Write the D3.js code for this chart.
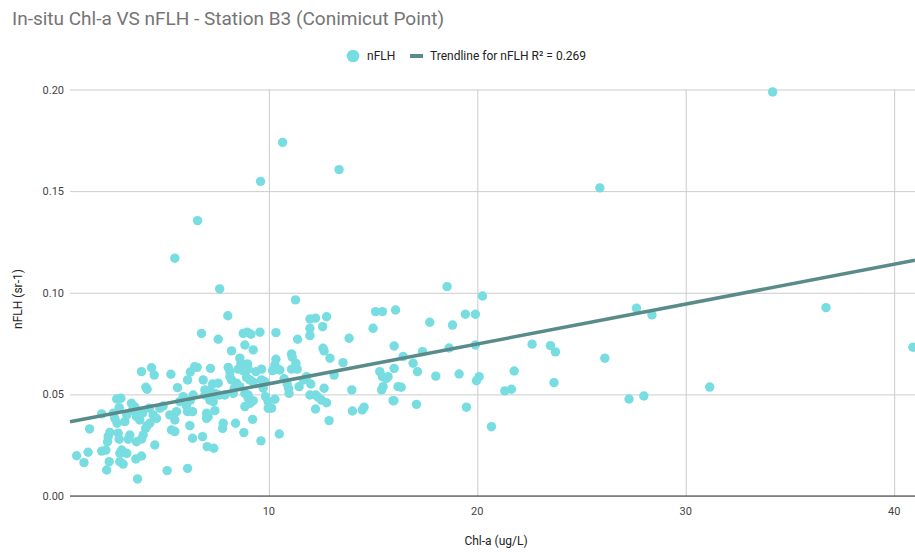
<!DOCTYPE html>
<html>
<head>
<meta charset="utf-8">
<script src="https://cdn.jsdelivr.net/npm/d3@7"></script>
<style>
  body { margin: 0; background: #fff; }
  svg { display: block; font-family: Roboto, Arial, sans-serif; }
</style>
</head>
<body>
<svg id="chart" width="915" height="552"></svg>
<script>
// In-situ Chl-a (ug/L) vs nFLH (sr-1)
const chlA = [
  0.78, 1.13, 1.33, 1.40, 1.98, 1.98, 2.18, 2.22, 2.34, 2.26, 2.29, 2.37,
  2.53, 2.61, 2.72, 2.70, 2.90, 2.82, 2.77, 2.82, 2.85, 2.94, 2.85, 3.01,
  3.18, 3.09, 3.18, 3.25, 3.33, 3.41, 3.57, 3.46, 3.70, 3.62, 3.89, 3.65,
  3.89, 4.09, 4.16, 3.97, 3.65, 3.81, 3.70, 3.94, 4.26, 3.89, 4.10, 4.16,
  4.37, 4.50, 4.53, 4.29, 4.61, 4.45, 4.77, 4.93, 5.12, 5.30, 5.25, 5.49,
  5.33, 5.49, 5.62, 5.73, 5.89, 6.05, 6.24, 6.37, 6.10, 6.34, 6.21, 6.10,
  6.34, 6.23, 6.44, 6.56, 5.57, 6.10,
  // 6.5 - 16
  10.66, 13.37, 9.60, 6.58, 5.49, 7.64, 11.28, 8.03, 11.97, 12.24, 12.77,
  11.97, 12.58, 11.97, 8.77, 8.96, 9.14, 9.57, 10.34, 6.77, 7.57, 11.38,
  8.85, 13.85, 15.00, 15.12, 15.45, 16.08, 8.21, 9.25, 12.60, 12.65, 11.09,
  11.12, 12.93, 13.56, 16.01, 8.61, 8.66, 8.98, 8.53, 8.77, 9.01, 8.69,
  10.34, 10.29, 10.40, 10.53, 10.18, 8.05, 7.20, 9.38, 9.65, 11.09, 11.36,
  11.30, 15.32, 15.45, 15.64, 15.72, 16.01, 15.48, 15.41, 16.00, 16.20,
  13.13, 12.65, 11.97, 12.25, 12.36, 12.53, 12.77, 12.24, 12.89, 13.98,
  14.01, 14.48, 14.57, 11.45, 11.65, 12.01, 11.81, 10.73, 10.88, 10.94,
  10.97, 9.81, 9.65, 9.73, 9.84, 9.97, 9.97, 10.13, 10.29, 10.50, 9.62,
  9.22, 8.80, 8.40, 8.85, 9.09, 9.25, 9.01, 9.01, 8.29, 8.34, 8.61, 8.21,
  7.57, 7.81, 7.78, 7.36, 7.04, 6.82, 7.01, 7.09, 7.01, 7.41, 7.33, 7.17,
  6.93, 7.41, 7.62, 7.89, 6.85, 6.93, 7.17, 8.13, 8.13, 8.45, 8.93, 9.09,
  9.25, 7.30, 8.85,
  // 16 and up
  18.55, 20.25, 17.72, 18.81, 19.43, 19.91, 16.44, 17.37, 18.65, 19.91,
  22.63, 23.51, 23.75, 16.92, 17.13, 18.01, 19.13, 20.09, 19.96, 21.77,
  21.32, 21.64, 23.68, 16.35, 15.96, 17.08, 19.48, 20.68,
  27.64, 28.38, 36.73, 26.12, 27.28, 27.99, 31.15, 40.90, 34.17, 25.88
];
const nflh = [
  0.0198, 0.0164, 0.0215, 0.0330, 0.0404, 0.0221, 0.0226, 0.0128, 0.0169, 0.0267, 0.0292, 0.0313,
  0.0407, 0.0382, 0.0358, 0.0477, 0.0481, 0.0435, 0.0309, 0.0279, 0.0210, 0.0226, 0.0169, 0.0157,
  0.0210, 0.0366, 0.0399, 0.0279, 0.0300, 0.0456, 0.0439, 0.0420, 0.0084, 0.0182, 0.0197, 0.0267,
  0.0280, 0.0333, 0.0346, 0.0300, 0.0390, 0.0374, 0.0418, 0.0407, 0.0432, 0.0612, 0.0535, 0.0525,
  0.0631, 0.0595, 0.0251, 0.0358, 0.0382, 0.0399, 0.0432, 0.0443, 0.0125, 0.0599, 0.0399, 0.0374,
  0.0325, 0.0317, 0.0533, 0.0464, 0.0489, 0.0443, 0.0472, 0.0497, 0.0415, 0.0415, 0.0346, 0.0136,
  0.0284, 0.0610, 0.0636, 0.0633, 0.0415, 0.0571,
  0.1740, 0.1606, 0.1548, 0.1355, 0.1170, 0.1019, 0.0965, 0.0887, 0.0871, 0.0875, 0.0882,
  0.0825, 0.0833, 0.0789, 0.0800, 0.0806, 0.0796, 0.0806, 0.0804, 0.0800, 0.0771, 0.0771,
  0.0743, 0.0776, 0.0825, 0.0907, 0.0907, 0.0915, 0.0714, 0.0719, 0.0727, 0.0714, 0.0699,
  0.0683, 0.0678, 0.0656, 0.0738, 0.0678, 0.0653, 0.0650, 0.0624, 0.0617, 0.0624, 0.0640,
  0.0673, 0.0645, 0.0624, 0.0620, 0.0617, 0.0633, 0.0628, 0.0612, 0.0624, 0.0624, 0.0624,
  0.0653, 0.0612, 0.0587, 0.0579, 0.0587, 0.0628, 0.0538, 0.0522, 0.0469, 0.0538,
  0.0595, 0.0530, 0.0497, 0.0497, 0.0486, 0.0472, 0.0459, 0.0428, 0.0371, 0.0522,
  0.0418, 0.0423, 0.0437, 0.0538, 0.0571, 0.0551, 0.0587, 0.0577, 0.0551, 0.0530,
  0.0505, 0.0562, 0.0571, 0.0530, 0.0489, 0.0464, 0.0432, 0.0432, 0.0476, 0.0305, 0.0271,
  0.0377, 0.0312, 0.0358, 0.0440, 0.0456, 0.0469, 0.0497, 0.0481, 0.0505, 0.0530, 0.0538, 0.0571,
  0.0555, 0.0358, 0.0333, 0.0235, 0.0243, 0.0292, 0.0407, 0.0390, 0.0382, 0.0420, 0.0464, 0.0472,
  0.0497, 0.0505, 0.0497, 0.0497, 0.0571, 0.0522, 0.0522, 0.0612, 0.0587, 0.0555, 0.0584, 0.0571,
  0.0560, 0.0551, 0.0505,
  0.1030, 0.0984, 0.0855, 0.0841, 0.0894, 0.0894, 0.0686, 0.0710, 0.0728, 0.0743,
  0.0747, 0.0740, 0.0709, 0.0653, 0.0612, 0.0590, 0.0600, 0.0587, 0.0567, 0.0615,
  0.0517, 0.0525, 0.0558, 0.0535, 0.0469, 0.0451, 0.0437, 0.0341,
  0.0924, 0.0891, 0.0927, 0.0678, 0.0477, 0.0492, 0.0536, 0.0732, 0.1988, 0.1516
];

const xTicks = [10, 20, 30, 40];
const yTicks = [0, 0.05, 0.10, 0.15, 0.20];
const rSquared = '0.269';

const title = 'In-situ Chl-a VS nFLH - Station B3 (Conimicut Point)';
const xLabel = 'Chl-a (ug/L)';
const yLabel = 'nFLH (sr-1)';

const dotColor = '#77dde1';
const trendColor = '#5a8b8b';

const svg = d3.select('#chart');

const xScale = d3.scaleLinear().domain([0.46, 41]).range([70, 915]);
const yScale = d3.scaleLinear().domain([0, 0.2]).range([496, 89.5]);

const points = chlA.map((c, i) => ({ x: c, y: nflh[i] }));

// least squares trendline
const mx = d3.mean(points, d => d.x);
const my = d3.mean(points, d => d.y);
const slope = d3.sum(points, d => (d.x - mx) * (d.y - my)) / d3.sum(points, d => (d.x - mx) ** 2);
const intercept = my - slope * mx;

// gridlines
svg.append('g')
  .attr('transform', 'translate(70,0)')
  .call(d3.axisLeft(yScale).tickValues(yTicks).tickSize(-(915 - 70)).tickFormat(''))
  .call(g => g.select('.domain').remove())
  .call(g => g.selectAll('line').attr('stroke', '#cccccc'));

svg.append('g')
  .attr('transform', 'translate(0,496)')
  .call(d3.axisBottom(xScale).tickValues(xTicks).tickSize(-(496 - 89.5)).tickFormat(''))
  .call(g => g.select('.domain').remove())
  .call(g => g.selectAll('line').attr('stroke', '#cccccc'));

// baseline
svg.append('line')
  .attr('x1', 70).attr('x2', 915)
  .attr('y1', yScale(0)).attr('y2', yScale(0))
  .attr('stroke', '#333').attr('stroke-width', 1);

// tick labels
svg.append('g')
  .selectAll('text')
  .data(yTicks)
  .join('text')
  .attr('x', 64)
  .attr('y', d => yScale(d) + 4)
  .attr('text-anchor', 'end')
  .attr('font-size', 11)
  .attr('fill', '#444')
  .text(d => d3.format('.2f')(d));

svg.append('g')
  .selectAll('text')
  .data(xTicks)
  .join('text')
  .attr('x', d => xScale(d))
  .attr('y', 515)
  .attr('text-anchor', 'middle')
  .attr('font-size', 11)
  .attr('fill', '#444')
  .text(d => d);

// axis titles
svg.append('text')
  .attr('x', 496).attr('y', 545)
  .attr('text-anchor', 'middle')
  .attr('font-size', 12).attr('fill', '#222')
  .text(xLabel);

svg.append('text')
  .attr('transform', 'translate(22,299) rotate(-90)')
  .attr('text-anchor', 'middle')
  .attr('font-size', 12).attr('fill', '#222')
  .text(yLabel);

// dots
svg.append('g')
  .selectAll('circle')
  .data(points)
  .join('circle')
  .attr('cx', d => xScale(d.x))
  .attr('cy', d => yScale(d.y))
  .attr('r', 4.7)
  .attr('fill', dotColor);

// trendline
const xd = xScale.domain();
svg.append('line')
  .attr('x1', xScale(xd[0])).attr('y1', yScale(intercept + slope * xd[0]))
  .attr('x2', xScale(xd[1])).attr('y2', yScale(intercept + slope * xd[1]))
  .attr('stroke', trendColor)
  .attr('stroke-width', 3.5);

// title
svg.append('text')
  .attr('x', 12).attr('y', 25)
  .attr('font-size', 19).attr('fill', '#757575')
  .text(title);

// legend
const legend = svg.append('g').attr('font-size', 12).attr('fill', '#222');
legend.append('circle').attr('cx', 353).attr('cy', 56).attr('r', 6.3).attr('fill', dotColor);
legend.append('text').attr('x', 367).attr('y', 60).text('nFLH');
legend.append('rect').attr('x', 410).attr('y', 54).attr('width', 13).attr('height', 4).attr('fill', trendColor);
legend.append('text').attr('x', 430).attr('y', 60).text(`Trendline for nFLH R² = ${rSquared}`);
</script>
</body>
</html>
